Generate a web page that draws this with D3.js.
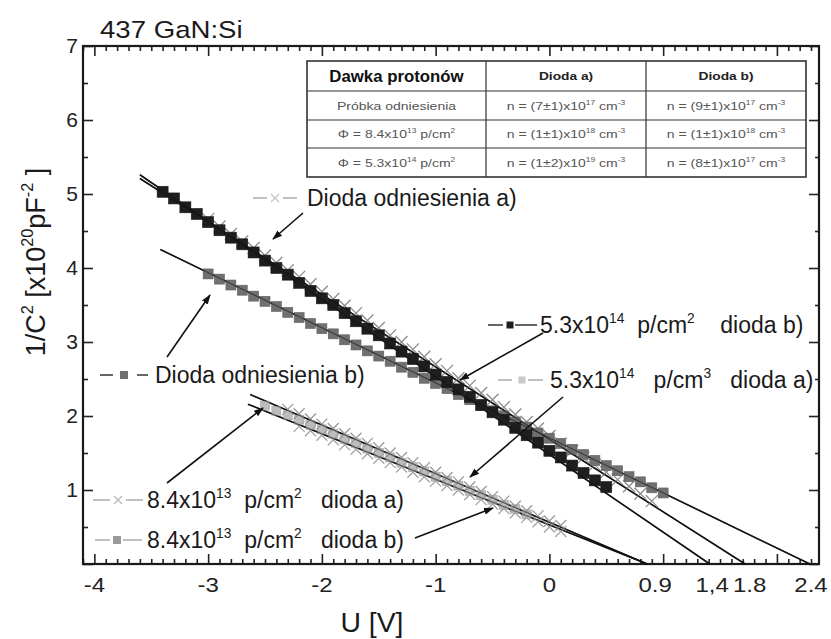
<!DOCTYPE html>
<html><head><meta charset="utf-8">
<script src="https://cdn.jsdelivr.net/npm/d3@7"></script>
<style>body{margin:0;background:#fff}</style>
</head><body>
<svg id="c" width="831" height="639"></svg>
<script>
// ================= DATA =================
const chartTitle = "437 GaN:Si";
const xMajorTicks = [-4,-3,-2,-1,0,1,2];
const yMajorTicks = [0,1,2,3,4,5,6,7];
const xLabelValues = [-4,-3,-2,-1,0,0.93,1.43,1.76,2.3];
const xLabelTexts  = ["-4","-3","-2","-1","0","0.9","1,4","1.8","2.4"];
const yLabelValues = [1,2,3,4,5,6,7];

// Dioda odniesienia a)  (crosses)
const refA_V = [-3.0,-2.9,-2.8,-2.7,-2.6,-2.5,-2.4,-2.3,-2.2,-2.1,-2.0,-1.9,-1.8,-1.7,-1.6,-1.5,-1.4,-1.3,-1.2,-1.1,-1.0,-0.9,-0.8,-0.7,-0.6,-0.5,-0.4,-0.3,-0.2,-0.1,0.0,0.1,0.2,0.3,0.4,0.5,0.6,0.7,0.8,0.9];
const refA_U = [4.66,4.56,4.46,4.36,4.27,4.17,4.07,3.97,3.88,3.78,3.68,3.58,3.49,3.39,3.29,3.19,3.09,3.00,2.90,2.80,2.70,2.61,2.51,2.41,2.31,2.22,2.12,2.02,1.92,1.83,1.73,1.63,1.53,1.44,1.34,1.24,1.14,1.05,0.95,0.85];
// Dioda odniesienia b)  (gray squares)
const refB_V = [-3.0,-2.9,-2.8,-2.7,-2.6,-2.5,-2.4,-2.3,-2.2,-2.1,-2.0,-1.9,-1.8,-1.7,-1.6,-1.5,-1.4,-1.3,-1.2,-1.1,-1.0,-0.9,-0.8,-0.7,-0.6,-0.5,-0.4,-0.3,-0.2,-0.1,0.0,0.1,0.2,0.3,0.4,0.5,0.6,0.7,0.8,0.9,1.0];
const refB_U = [3.92,3.85,3.77,3.70,3.62,3.55,3.48,3.40,3.33,3.25,3.18,3.11,3.03,2.96,2.88,2.81,2.74,2.66,2.59,2.51,2.44,2.37,2.29,2.22,2.14,2.07,2.00,1.92,1.85,1.77,1.70,1.63,1.55,1.48,1.40,1.33,1.26,1.18,1.11,1.03,0.96];
// 5.3x10^14 p/cm2 dioda b)  (black squares)
const p53b_V = [-3.4,-3.3,-3.2,-3.1,-3.0,-2.9,-2.8,-2.7,-2.6,-2.5,-2.4,-2.3,-2.2,-2.1,-2.0,-1.9,-1.8,-1.7,-1.6,-1.5,-1.4,-1.3,-1.2,-1.1,-1.0,-0.9,-0.8,-0.7,-0.6,-0.5,-0.4,-0.3,-0.2,-0.1,0.0,0.1,0.2,0.3,0.4,0.5];
const p53b_U = [5.03,4.94,4.82,4.73,4.62,4.51,4.41,4.32,4.21,4.10,4.00,3.91,3.80,3.69,3.59,3.50,3.39,3.28,3.18,3.09,2.98,2.87,2.77,2.67,2.56,2.46,2.36,2.26,2.15,2.05,1.95,1.84,1.74,1.64,1.53,1.44,1.33,1.23,1.13,1.04];
// 5.3x10^14 p/cm3 dioda a)  (light crosses)
const p53a_V = [-2.3,-2.2,-2.1,-2.0,-1.9,-1.8,-1.7,-1.6,-1.5,-1.4,-1.3,-1.2,-1.1,-1.0,-0.9,-0.8,-0.7,-0.6,-0.5,-0.4,-0.3,-0.2,-0.1,0.0,0.1];
const p53a_U = [2.09,2.03,1.96,1.89,1.83,1.76,1.70,1.63,1.57,1.50,1.44,1.37,1.30,1.24,1.17,1.11,1.04,0.98,0.91,0.85,0.78,0.72,0.65,0.58,0.52];
// 8.4x10^13 p/cm2 dioda a)  (light crosses)
const p84a_V = [-2.2,-2.1,-2.0,-1.9,-1.8,-1.7,-1.6,-1.5,-1.4,-1.3,-1.2,-1.1,-1.0,-0.9,-0.8,-0.7,-0.6,-0.5,-0.4,-0.3,-0.2,-0.1,0.0,0.1];
const p84a_U = [1.86,1.80,1.74,1.68,1.61,1.55,1.49,1.43,1.37,1.31,1.24,1.18,1.12,1.06,1.00,0.94,0.87,0.81,0.75,0.69,0.63,0.57,0.50,0.44];
// 8.4x10^13 p/cm2 dioda b)  (light gray squares)
const p84b_V = [-2.5,-2.4,-2.3,-2.2,-2.1,-2.0,-1.9,-1.8,-1.7,-1.6,-1.5,-1.4,-1.3,-1.2,-1.1,-1.0,-0.9,-0.8,-0.7,-0.6,-0.5,-0.4,-0.3,-0.2];
const p84b_U = [2.14,2.07,2.01,1.95,1.88,1.82,1.76,1.69,1.63,1.56,1.50,1.44,1.37,1.31,1.25,1.18,1.12,1.06,0.99,0.93,0.87,0.80,0.74,0.67];

// linear fits: start point and intercept with U axis
const fitStartV    = [-3.6, -3.6, -3.42, -2.63, -2.65];
const fitStartU    = [5.26, 5.21, 4.25, 2.29, 2.16];
const fitInterceptV = [1.41, 1.72, 2.29, 0.86, 0.86];

// table
const tableHeader = ["Dawka protonów", "Dioda a)", "Dioda b)"];
const tableRowLabels = [
  [["Próbka odniesienia",0]],
  [["Φ = 8.4x10",0],["13",1],[" p/cm",0],["2",1]],
  [["Φ = 5.3x10",0],["14",1],[" p/cm",0],["2",1]]
];
const tableColA = [
  [["n = (7±1)x10",0],["17",1],[" cm",0],["-3",1]],
  [["n = (1±1)x10",0],["18",1],[" cm",0],["-3",1]],
  [["n = (1±2)x10",0],["19",1],[" cm",0],["-3",1]]
];
const tableColB = [
  [["n = (9±1)x10",0],["17",1],[" cm",0],["-3",1]],
  [["n = (1±1)x10",0],["18",1],[" cm",0],["-3",1]],
  [["n = (8±1)x10",0],["17",1],[" cm",0],["-3",1]]
];

// legend labels
const legendLabels = [
  [["Dioda odniesienia a)",0]],
  [["Dioda odniesienia b)",0]],
  [["5.3x10",0],["14",1],["  p/cm",0],["2",1],["    dioda b)",0]],
  [["5.3x10",0],["14",1],["   p/cm",0],["3",1],["   dioda a)",0]],
  [["8.4x10",0],["13",1],["  p/cm",0],["2",1],["   dioda a)",0]],
  [["8.4x10",0],["13",1],["  p/cm",0],["2",1],["   dioda b)",0]]
];
const yAxisTitle = [["1/C",0],["2",1],[" [x10",0],["20",1],["pF",0],["-2",1],[" ]",0]];
const xAxisTitle = "U [V]";

// ================= DRAW =================
const FONT = "'Liberation Sans', Arial, Helvetica, sans-serif";
const svg = d3.select("#c").attr("font-family", FONT);
svg.append("rect").attr("width",831).attr("height",639).attr("fill","#fff");

const L = 83, R = 819, T = 46, B = 564;
const x = d3.scaleLinear().domain([-4.1, 2.37]).range([L, R]);
const y = d3.scaleLinear().domain([0, 7]).range([B, T]);

function addRich(t, parts, size) {
  let raised = false;
  parts.forEach(p => {
    const ts = t.append("tspan").text(p[0]).attr("font-size", p[1] ? size*0.6 : size);
    if (p[1] && !raised) { ts.attr("dy", -size*0.42); raised = true; }
    else if (!p[1] && raised) { ts.attr("dy", size*0.42); raised = false; }
  });
  return t;
}
function richAt(px, py, parts, size, anchor, sx, opts) {
  opts = opts || {};
  const g = svg.append("g").attr("transform", `translate(${px},${py}) scale(${sx||1},1)` + (opts.rotate ? ` rotate(${opts.rotate})` : ""));
  const t = g.append("text").attr("text-anchor", anchor || "start").attr("fill", opts.fill || "#1a1a1a")
    .attr("font-weight", opts.bold ? "bold" : null).style("white-space","pre");
  addRich(t, parts, size);
  return t;
}

// ---- table ----
const colX = [307, 486, 646, 806];
const rowY = [61, 91, 120, 148, 177];
const tg = svg.append("g").attr("stroke", "#333").attr("fill", "none");
tg.append("rect").attr("x", colX[0]).attr("y", rowY[0]).attr("width", colX[3]-colX[0]).attr("height", rowY[4]-rowY[0]).attr("stroke-width", 1.6);
rowY.slice(1, 4).forEach(v => tg.append("line").attr("x1", colX[0]).attr("x2", colX[3]).attr("y1", v).attr("y2", v).attr("stroke-width", 1.2));
colX.slice(1, 3).forEach(v => tg.append("line").attr("x1", v).attr("x2", v).attr("y1", rowY[0]).attr("y2", rowY[4]).attr("stroke-width", 1.2));
const cx = i => (colX[i] + colX[i+1]) / 2;
const cy = j => (rowY[j] + rowY[j+1]) / 2;
richAt(cx(0), cy(0)+6, [[tableHeader[0],0]], 16, "middle", 1.05, {bold:true, fill:"#111"});
richAt(cx(1), cy(0)+4, [[tableHeader[1],0]], 11, "middle", 1.25, {bold:true, fill:"#222"});
richAt(cx(2), cy(0)+4, [[tableHeader[2],0]], 11, "middle", 1.25, {bold:true, fill:"#222"});
for (let j = 0; j < 3; j++) {
  richAt(cx(0), cy(j+1)+4, tableRowLabels[j], 11.5, "middle", 1.22, {fill:"#555"});
  richAt(cx(1), cy(j+1)+4, tableColA[j], 11.5, "middle", 1.22, {fill:"#555"});
  richAt(cx(2), cy(j+1)+4, tableColB[j], 11.5, "middle", 1.22, {fill:"#555"});
}

// ---- frame and ticks ----
const minorX = d3.range(-41, 24).map(i => i/10).filter(v => Math.abs(v - Math.round(v)) > 1e-6);
const minorY = d3.range(0, 15).map(i => i/2).filter(v => v % 1 !== 0);
const tickStyle = g => { g.select(".domain").remove(); g.selectAll("line").attr("stroke", "#222").attr("stroke-width", 1.6); };
svg.append("g").attr("transform", `translate(0,${B})`).call(d3.axisBottom(x).tickValues(xMajorTicks).tickSize(-10).tickFormat("")).call(tickStyle);
svg.append("g").attr("transform", `translate(0,${B})`).call(d3.axisBottom(x).tickValues(minorX).tickSize(-5).tickFormat("")).call(tickStyle);
svg.append("g").attr("transform", `translate(0,${T})`).call(d3.axisTop(x).tickValues(xMajorTicks).tickSize(-10).tickFormat("")).call(tickStyle);
svg.append("g").attr("transform", `translate(0,${T})`).call(d3.axisTop(x).tickValues(minorX).tickSize(-5).tickFormat("")).call(tickStyle);
svg.append("g").attr("transform", `translate(${L},0)`).call(d3.axisLeft(y).tickValues(yMajorTicks).tickSize(-10).tickFormat("")).call(tickStyle);
svg.append("g").attr("transform", `translate(${L},0)`).call(d3.axisLeft(y).tickValues(minorY).tickSize(-5).tickFormat("")).call(tickStyle);
svg.append("g").attr("transform", `translate(${R},0)`).call(d3.axisRight(y).tickValues(yMajorTicks).tickSize(-10).tickFormat("")).call(tickStyle);
svg.append("g").attr("transform", `translate(${R},0)`).call(d3.axisRight(y).tickValues(minorY).tickSize(-4).tickFormat("")).call(tickStyle);
svg.append("rect").attr("x", L).attr("y", T).attr("width", R-L).attr("height", B-T).attr("fill", "none").attr("stroke", "#1a1a1a").attr("stroke-width", 2.2);

// tick labels
const xl = svg.append("g").attr("transform", `translate(0,${B})`)
  .call(d3.axisBottom(x).tickValues(xLabelValues).tickSize(0).tickPadding(14).tickFormat((d, i) => xLabelTexts[i]));
xl.select(".domain").remove();
xl.selectAll("text").attr("font-size", 20).attr("font-family", FONT).attr("fill", "#222");
xl.selectAll(".tick").each(function(d) {
  d3.select(this).attr("transform", `translate(${x(d)},0) scale(1.2,1)`);
});
const yl = svg.append("g").attr("transform", `translate(${L},0)`)
  .call(d3.axisLeft(y).tickValues(yLabelValues).tickSize(0).tickPadding(5).tickFormat(d3.format("d")));
yl.select(".domain").remove();
yl.selectAll("text").attr("font-size", 21).attr("font-family", FONT).attr("fill", "#222");

// ---- fit lines ----
const fg = svg.append("g").attr("stroke", "#111").attr("stroke-width", 1.6);
fitStartV.forEach((v, i) => {
  fg.append("line").attr("x1", x(v)).attr("y1", y(fitStartU[i])).attr("x2", x(fitInterceptV[i])).attr("y2", y(0));
});

// ---- markers ----
function crossPath(s) { return `M${-s},${-s}L${s},${s}M${-s},${s}L${s},${-s}`; }
function drawCrosses(V, U, color, s) {
  svg.append("g").selectAll("path").data(V).join("path")
    .attr("transform", (d, i) => `translate(${x(d)},${y(U[i])})`)
    .attr("d", crossPath(s)).attr("stroke", color).attr("stroke-width", 1.3).attr("fill", "none");
}
function drawSquares(V, U, color, s) {
  svg.append("g").selectAll("rect").data(V).join("rect")
    .attr("x", d => x(d) - s/2).attr("y", (d, i) => y(U[i]) - s/2).attr("width", s).attr("height", s)
    .attr("fill", color).attr("stroke", d3.color(color).darker(0.4)).attr("stroke-width", 0.6);
}
drawSquares(p84b_V, p84b_U, "#bdbdbd", 9);
drawCrosses(p53a_V, p53a_U, "#9a9a9a", 5.5);
drawCrosses(p84a_V, p84a_U, "#a5a5a5", 5.5);
drawCrosses(refA_V, refA_U, "#8c8c8c", 6);
drawSquares(refB_V, refB_U, "#707070", 10);
drawSquares(p53b_V, p53b_U, "#1e1e1e", 11);
// fit lines faintly on top so they remain visible through markers
fitStartV.forEach((v, i) => {
  svg.append("line").attr("x1", x(v)).attr("y1", y(fitStartU[i])).attr("x2", x(fitInterceptV[i])).attr("y2", y(0))
    .attr("stroke", "#111").attr("stroke-width", 1.1).attr("opacity", 0.55);
});

// ---- legend annotations (layout in pixels) ----
const legendLayout = [
  {tx:307, cy:198, seg:[[253,267],[283,297]], mx:275, mark:"cross", col:"#c4c4c4", arrow:[303,213,273,239]},
  {tx:155, cy:375, seg:[[100,113],[137,148]], mx:124, mark:"square", col:"#707070", arrow:[167,357,210,295]},
  {tx:540, cy:325, seg:[[488,503],[515,537]], mx:510, mark:"small", col:"#1e1e1e", arrow:[543,333,460,380]},
  {tx:550, cy:380, seg:[[498,512],[528,543]], mx:522, mark:"small", col:"#c8c8c8", arrow:[563,397,470,477]},
  {tx:147, cy:500, seg:[[93,110],[126,143]], mx:118, mark:"cross", col:"#b8b8b8", arrow:[167,483,263,408]},
  {tx:147, cy:540, seg:[[95,110],[123,142]], mx:117, mark:"square", col:"#9a9a9a", arrow:[415,538,493,508]}
];
svg.append("defs").append("marker").attr("id", "ah").attr("viewBox", "0 0 10 10").attr("refX", 9).attr("refY", 5)
  .attr("markerWidth", 10).attr("markerHeight", 10).attr("markerUnits", "userSpaceOnUse").attr("orient", "auto")
  .append("path").attr("d", "M0,1.5L10,5L0,8.5Z").attr("fill", "#111");
legendLayout.forEach((lg, i) => {
  const segCol = (i === 2 || i === 1) ? "#333" : "#aaa";
  lg.seg.forEach(s => svg.append("line").attr("x1", s[0]).attr("x2", s[1]).attr("y1", lg.cy).attr("y2", lg.cy).attr("stroke", segCol).attr("stroke-width", 1.5));
  if (lg.mark === "square") svg.append("rect").attr("x", lg.mx-4).attr("y", lg.cy-4).attr("width", 8).attr("height", 8).attr("fill", lg.col);
  else if (lg.mark === "small") svg.append("rect").attr("x", lg.mx-3.5).attr("y", lg.cy-3.5).attr("width", 7).attr("height", 7).attr("fill", lg.col);
  else svg.append("path").attr("transform", `translate(${lg.mx},${lg.cy})`).attr("d", crossPath(4)).attr("stroke", lg.col).attr("stroke-width", 1.3);
  richAt(lg.tx, lg.cy + 8, legendLabels[i], 23, "start", 1, {fill:"#1a1a1a"});
  svg.append("line").attr("x1", lg.arrow[0]).attr("y1", lg.arrow[1]).attr("x2", lg.arrow[2]).attr("y2", lg.arrow[3])
    .attr("stroke", "#111").attr("stroke-width", 1.6).attr("marker-end", "url(#ah)");
});

// ---- titles ----
richAt(100, 38, [[chartTitle,0]], 24, "start", 1.15, {fill:"#1a1a1a"});
richAt(45, 262, yAxisTitle, 27, "middle", 1.05, {rotate:-90, fill:"#1a1a1a"});
richAt(372, 632, [[xAxisTitle,0]], 27, "middle", 1.05, {fill:"#1a1a1a"});
</script>
</body></html>
